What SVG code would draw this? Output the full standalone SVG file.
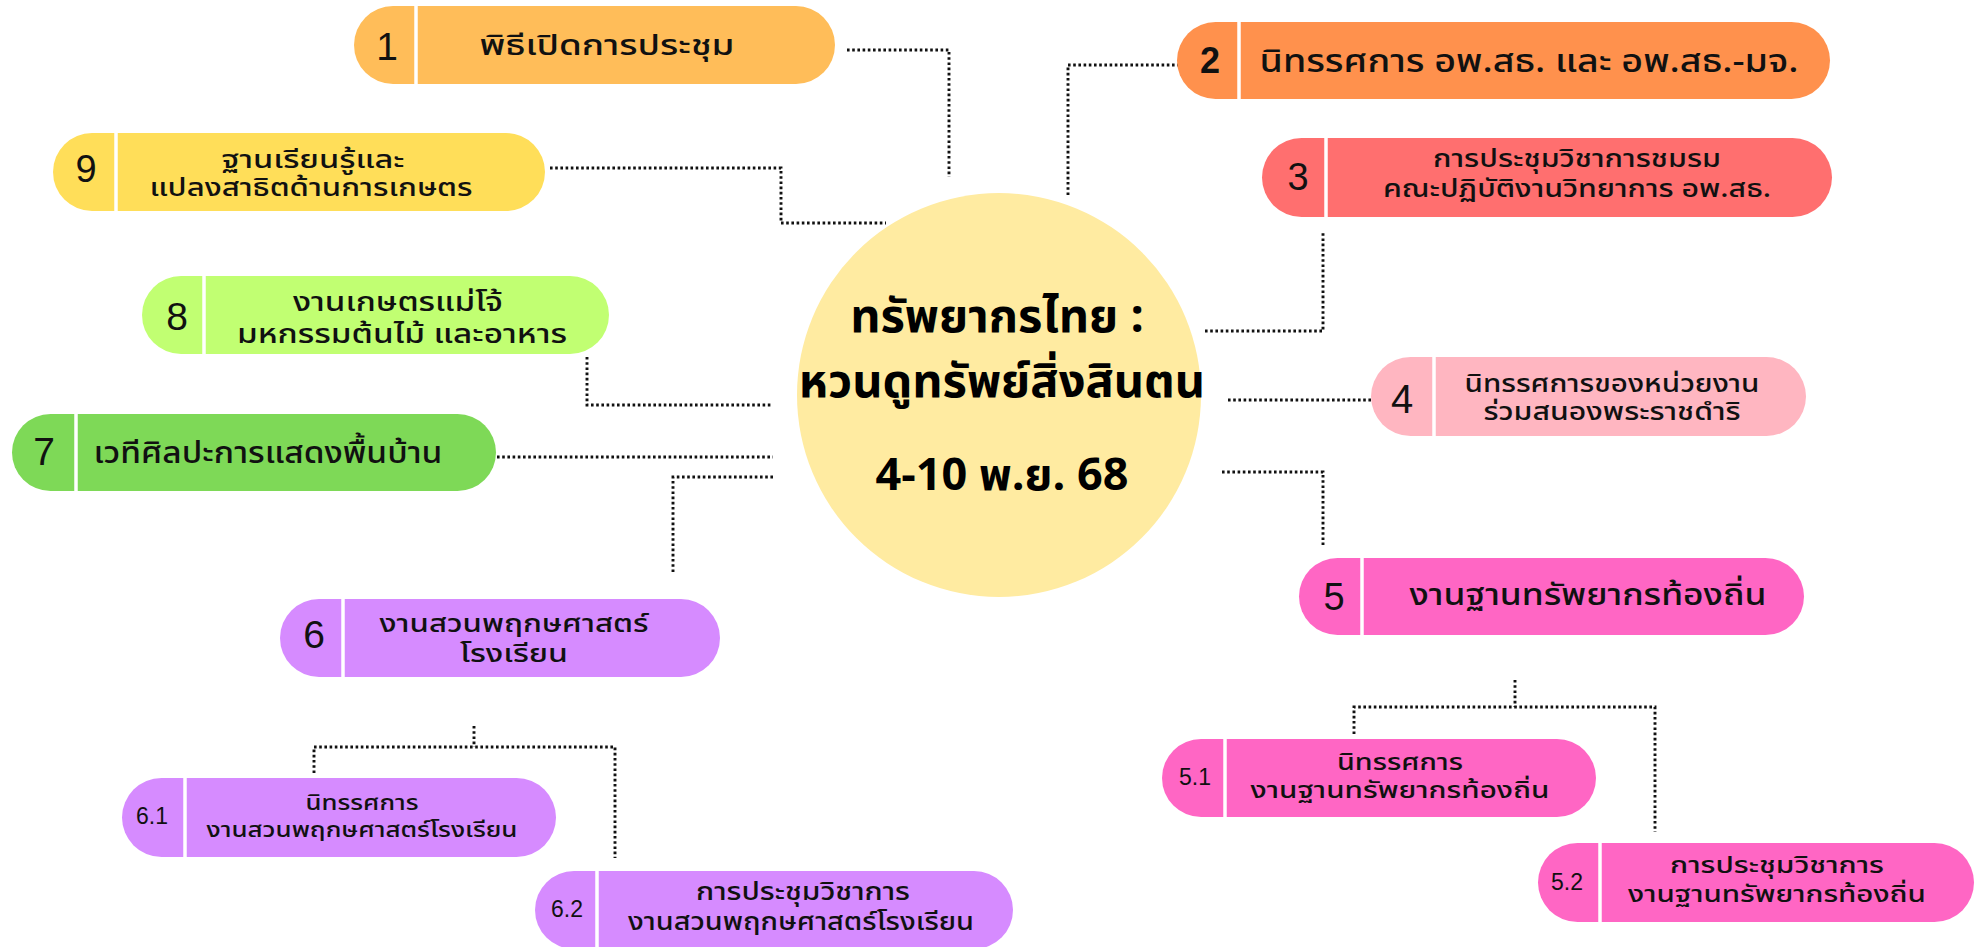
<svg xmlns="http://www.w3.org/2000/svg" width="1975" height="947" viewBox="0 0 1975 947">
<style>
.pill{stroke:none}
.div{stroke:#fff;stroke-width:3.5}
.num{font-family:"Liberation Sans",Arial,sans-serif;fill:#111;text-anchor:middle}
.t{font-family:"Noto Sans Thai","Noto Sans","DejaVu Sans",sans-serif;fill:#111;text-anchor:middle;font-weight:500}
.title{font-family:"Noto Sans Thai","Noto Sans","DejaVu Sans",sans-serif;fill:#000;text-anchor:middle;font-weight:700}
.con{fill:none;stroke:#111;stroke-width:2.9;stroke-dasharray:2.6 2.6}
</style>
<rect width="1975" height="947" fill="#fff"/>
<g id="connectors">
<path class="con" d="M847,50 H949 V177"/>
<path class="con" d="M1068,195 V65 H1178"/>
<path class="con" d="M550,168 H781 V223 H886"/>
<path class="con" d="M1205,331 H1323 V233"/>
<path class="con" d="M1228,400 H1371"/>
<path class="con" d="M1222,472 H1323 V545"/>
<path class="con" d="M587,357 V405 H773"/>
<path class="con" d="M497,457 H773"/>
<path class="con" d="M773,477 H673 V573"/>
<path class="con" d="M474,726 V747"/>
<path class="con" d="M314,773 V747 H615 V858"/>
<path class="con" d="M1515,680 V707"/>
<path class="con" d="M1354,734 V707 H1655 V832"/>
</g>
<g id="center">
<circle cx="999" cy="395" r="202" fill="#FFEBA1"/>
<text class="title" x="997" y="332" font-size="47">ทรัพยากรไทย :</text>
<text class="title" x="1002" y="397" font-size="47">หวนดูทรัพย์สิ่งสินตน</text>
<text class="title" x="1002" y="490" font-size="45">4-10 พ.ย. 68</text>
</g>
<g id="node1">
<rect class="pill" x="354" y="6" width="481" height="78" rx="39" fill="#FFBD59"/>
<line class="div" x1="416" y1="6" x2="416" y2="84"/>
<text class="num" x="387" y="60" font-size="39">1</text>
<text class="t" x="607" y="55" font-size="28" textLength="255" lengthAdjust="spacingAndGlyphs">พิธีเปิดการประชุม</text>
</g>
<g id="node2">
<rect class="pill" x="1177" y="22" width="653" height="77" rx="38.5" fill="#FF914D"/>
<line class="div" x1="1239" y1="22" x2="1239" y2="99"/>
<text class="num" x="1210" y="73" font-size="36" font-weight="700">2</text>
<text class="t" x="1529" y="72" font-size="32" textLength="539" lengthAdjust="spacingAndGlyphs">นิทรรศการ อพ.สธ. และ อพ.สธ.-มจ.</text>
</g>
<g id="node3">
<rect class="pill" x="1262" y="138" width="570" height="79" rx="39.5" fill="#FF6F6F"/>
<line class="div" x1="1326" y1="138" x2="1326" y2="217"/>
<text class="num" x="1298" y="190" font-size="38">3</text>
<text class="t" x="1577" y="167" font-size="25" textLength="288" lengthAdjust="spacingAndGlyphs">การประชุมวิชาการชมรม</text>
<text class="t" x="1577" y="197" font-size="25" textLength="388" lengthAdjust="spacingAndGlyphs">คณะปฏิบัติงานวิทยาการ อพ.สธ.</text>
</g>
<g id="node4">
<rect class="pill" x="1371" y="357" width="435" height="79" rx="39.5" fill="#FFB6C1"/>
<line class="div" x1="1434" y1="357" x2="1434" y2="436"/>
<text class="num" x="1402" y="413" font-size="40">4</text>
<text class="t" x="1612" y="392" font-size="25" textLength="295" lengthAdjust="spacingAndGlyphs">นิทรรศการของหน่วยงาน</text>
<text class="t" x="1612" y="420" font-size="25" textLength="257" lengthAdjust="spacingAndGlyphs">ร่วมสนองพระราชดำริ</text>
</g>
<g id="node5">
<rect class="pill" x="1299" y="558" width="505" height="77" rx="38.5" fill="#FF66C4"/>
<line class="div" x1="1362" y1="558" x2="1362" y2="635"/>
<text class="num" x="1334" y="610" font-size="38">5</text>
<text class="t" x="1588" y="605" font-size="31" textLength="357" lengthAdjust="spacingAndGlyphs">งานฐานทรัพยากรท้องถิ่น</text>
</g>
<g id="node5_1">
<rect class="pill" x="1162" y="739" width="434" height="78" rx="39" fill="#FF66C4"/>
<line class="div" x1="1225" y1="739" x2="1225" y2="817"/>
<text class="num" x="1195" y="785" font-size="23">5.1</text>
<text class="t" x="1400" y="770" font-size="23" textLength="126" lengthAdjust="spacingAndGlyphs">นิทรรศการ</text>
<text class="t" x="1400" y="798" font-size="23" textLength="299" lengthAdjust="spacingAndGlyphs">งานฐานทรัพยากรท้องถิ่น</text>
</g>
<g id="node5_2">
<rect class="pill" x="1538" y="843" width="436" height="79" rx="39.5" fill="#FF66C4"/>
<line class="div" x1="1600" y1="843" x2="1600" y2="922"/>
<text class="num" x="1567" y="890" font-size="23">5.2</text>
<text class="t" x="1777" y="873" font-size="23" textLength="214" lengthAdjust="spacingAndGlyphs">การประชุมวิชาการ</text>
<text class="t" x="1777" y="902" font-size="23" textLength="298" lengthAdjust="spacingAndGlyphs">งานฐานทรัพยากรท้องถิ่น</text>
</g>
<g id="node6">
<rect class="pill" x="280" y="599" width="440" height="78" rx="39" fill="#D68BFF"/>
<line class="div" x1="343" y1="599" x2="343" y2="677"/>
<text class="num" x="314" y="648" font-size="39">6</text>
<text class="t" x="514" y="632" font-size="25" textLength="269" lengthAdjust="spacingAndGlyphs">งานสวนพฤกษศาสตร์</text>
<text class="t" x="514" y="662" font-size="25" textLength="108" lengthAdjust="spacingAndGlyphs">โรงเรียน</text>
</g>
<g id="node6_1">
<rect class="pill" x="122" y="778" width="434" height="79" rx="39.5" fill="#D68BFF"/>
<line class="div" x1="185" y1="778" x2="185" y2="857"/>
<text class="num" x="152" y="824" font-size="23">6.1</text>
<text class="t" x="362" y="810" font-size="22" textLength="113" lengthAdjust="spacingAndGlyphs">นิทรรศการ</text>
<text class="t" x="362" y="837" font-size="22" textLength="311" lengthAdjust="spacingAndGlyphs">งานสวนพฤกษศาสตร์โรงเรียน</text>
</g>
<g id="node6_2">
<rect class="pill" x="535" y="871" width="478" height="78" rx="39" fill="#D68BFF"/>
<line class="div" x1="597" y1="871" x2="597" y2="949"/>
<text class="num" x="567" y="917" font-size="23">6.2</text>
<text class="t" x="803" y="900" font-size="24" textLength="214" lengthAdjust="spacingAndGlyphs">การประชุมวิชาการ</text>
<text class="t" x="801" y="930" font-size="24" textLength="346" lengthAdjust="spacingAndGlyphs">งานสวนพฤกษศาสตร์โรงเรียน</text>
</g>
<g id="node7">
<rect class="pill" x="12" y="414" width="484" height="77" rx="38.5" fill="#7ED957"/>
<line class="div" x1="76" y1="414" x2="76" y2="491"/>
<text class="num" x="44" y="465" font-size="39">7</text>
<text class="t" x="268" y="463" font-size="30" textLength="349" lengthAdjust="spacingAndGlyphs">เวทีศิลปะการแสดงพื้นบ้าน</text>
</g>
<g id="node8">
<rect class="pill" x="142" y="276" width="467" height="78" rx="39" fill="#C1FF72"/>
<line class="div" x1="204" y1="276" x2="204" y2="354"/>
<text class="num" x="177" y="330" font-size="39">8</text>
<text class="t" x="398" y="311" font-size="26" textLength="210" lengthAdjust="spacingAndGlyphs">งานเกษตรแม่โจ้</text>
<text class="t" x="402" y="343" font-size="26" textLength="330" lengthAdjust="spacingAndGlyphs">มหกรรมต้นไม้ และอาหาร</text>
</g>
<g id="node9">
<rect class="pill" x="53" y="133" width="492" height="78" rx="39" fill="#FFDE59"/>
<line class="div" x1="116" y1="133" x2="116" y2="211"/>
<text class="num" x="86" y="182" font-size="38">9</text>
<text class="t" x="313" y="168" font-size="25" textLength="183" lengthAdjust="spacingAndGlyphs">ฐานเรียนรู้และ</text>
<text class="t" x="311" y="196" font-size="25" textLength="323" lengthAdjust="spacingAndGlyphs">แปลงสาธิตด้านการเกษตร</text>
</g>
</svg>
